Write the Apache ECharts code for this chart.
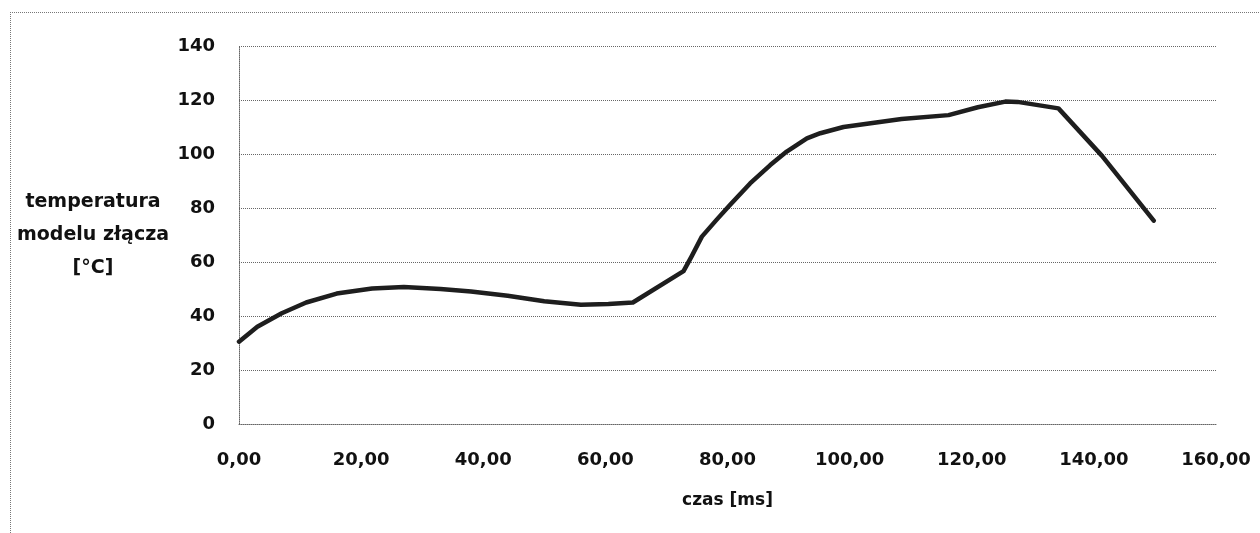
<!DOCTYPE html>
<html>
<head>
<meta charset="utf-8">
<script src="https://cdn.jsdelivr.net/npm/echarts@6/dist/echarts.min.js"></script>
<style>
html,body{margin:0;padding:0;background:#fff;}
#c{width:1260px;height:533px;}
</style>
</head>
<body>
<div id="c"></div>
<script>
// data
var timeMs = [0, 3, 7, 11, 16, 21.8, 27, 33, 38, 44, 50, 56, 60.5, 64.5, 72.8, 74.1, 75.8, 78.2, 80.4, 83.7, 87, 89.7, 93, 95.2, 99, 108.5, 116.2, 121, 125.5, 127.5, 134.2, 141.3, 149.8];
var tempC  = [30.5, 36, 41, 45, 48.3, 50.2, 50.7, 50, 49.1, 47.5, 45.5, 44.2, 44.4, 45, 56.6, 62, 69.4, 75.6, 81.1, 89.1, 95.9, 100.9, 105.8, 107.7, 110, 113, 114.4, 117.3, 119.4, 119.3, 116.9, 99.4, 75.3];
var xTicks = [0, 20, 40, 60, 80, 100, 120, 140, 160];
var yTicks = [0, 20, 40, 60, 80, 100, 120, 140];
var xTitle = 'czas [ms]';
var yTitle = 'temperatura\nmodelu złącza\n[°C]';

var pts = timeMs.map(function (t, i) { return [t, tempC[i]]; });
var font = 'DejaVu Sans';
var gridStyle = { color: '#666', type: 'dotted', width: 1 };

var chart = echarts.init(document.getElementById('c'), null, { renderer: 'canvas' });
chart.setOption({
  animation: false,
  backgroundColor: '#fff',
  grid: { left: 239, top: 46, width: 977, height: 378, containLabel: false },
  xAxis: {
    type: 'value',
    min: xTicks[0], max: xTicks[xTicks.length - 1], interval: 20,
    name: xTitle, nameLocation: 'middle', nameGap: 77,
    nameTextStyle: { fontFamily: font, fontWeight: 'bold', fontSize: 17, color: '#111', verticalAlign: 'middle' },
    axisLine: { show: true, lineStyle: gridStyle },
    axisTick: { show: false },
    splitLine: { show: false },
    axisLabel: {
      margin: 27, fontFamily: font, fontWeight: 'bold', fontSize: 18, color: '#111',
      formatter: function (v) { return v.toFixed(2).replace('.', ','); }
    }
  },
  yAxis: {
    type: 'value',
    min: yTicks[0], max: yTicks[yTicks.length - 1], interval: 20,
    name: yTitle, nameLocation: 'middle', nameRotate: 0, nameGap: 146,
    nameTextStyle: { fontFamily: font, fontWeight: 'bold', fontSize: 19, color: '#111', align: 'center', verticalAlign: 'middle', lineHeight: 33, padding: [6, 0, 0, 0] },
    axisLine: { show: true, lineStyle: gridStyle },
    axisTick: { show: false },
    splitLine: { show: true, lineStyle: gridStyle },
    axisLabel: { margin: 24, fontFamily: font, fontWeight: 'bold', fontSize: 18, color: '#111' }
  },
  graphic: [
    { type: 'line', shape: { x1: 10, y1: 12.5, x2: 1260, y2: 12.5 }, style: { stroke: '#777', lineWidth: 1, lineDash: [1, 1] }, silent: true },
    { type: 'line', shape: { x1: 10.5, y1: 12, x2: 10.5, y2: 533 }, style: { stroke: '#777', lineWidth: 1, lineDash: [1, 1] }, silent: true }
  ],
  series: [{
    type: 'line',
    data: pts,
    showSymbol: false,
    smooth: false,
    lineStyle: { color: '#1e1e1e', width: 4.5, join: 'round', cap: 'round' },
    z: 3
  }]
});
</script>
</body>
</html>
